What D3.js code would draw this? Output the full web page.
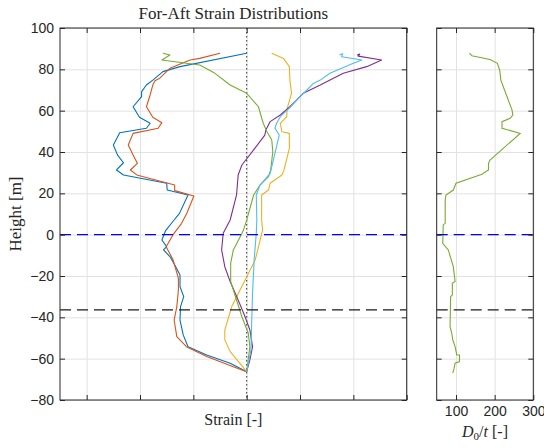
<!DOCTYPE html>
<html>
<head>
<meta charset="utf-8">
<script src="https://cdn.jsdelivr.net/npm/d3@7"></script>
<style>
  body { margin: 0; background: #fff; }
  .tick text { font-family: "Liberation Sans", Arial, sans-serif; font-size: 14px; fill: #262626; }
  .lbl { font-family: "Liberation Serif", "Times New Roman", serif; fill: #262626; }
</style>
</head>
<body>
<div id="chart"></div>
<script>
// tick values
const heightTicks = [-80, -60, -40, -20, 0, 20, 40, 60, 80, 100];
const strainTicks = [-3, -2, -1, 0, 1, 2, 3];
const slendTicks = [100, 200, 300];

// reference levels [m]
const waterLevel = 0;
const mudLevel = -36.4;

// strain profiles, [strain, height]
const blueSeries = [[0, 87.8], [-1.25, 81.3], [-1.57, 78.9], [-1.76, 74.8], [-1.88, 72.4], [-1.97, 69.2], [-1.97, 66.8],
  [-2.13, 61.9], [-2.01, 56.8], [-1.81, 53.9], [-1.88, 51.5], [-2.38, 49.3], [-2.5, 43.4], [-2.42, 38.5], [-2.31, 34.8],
  [-2.44, 31.3], [-2.31, 28.9], [-1.5, 24.9], [-1.49, 21.6], [-1.1, 19.2], [-1.26, 10.3], [-1.38, 6.5], [-1.52, 2],
  [-1.59, -2.6], [-1.5, -5.8], [-1.56, -7.4], [-1.44, -10.6], [-1.34, -15], [-1.25, -19.5], [-1.25, -25.2],
  [-1.18, -30], [-1.24, -34.8], [-1.25, -41.3], [-1.19, -48.5], [-1.1, -54.2], [-0.75, -58.2], [-0.31, -62.2], [0, -66.3]];
const orangeSeries = [[-0.5, 87.8], [-0.88, 85.3], [-1.06, 84.5], [-1.44, 80.5], [-1.63, 75.7], [-1.72, 74.5],
  [-1.76, 72.4], [-1.81, 67.6], [-1.88, 61.9], [-1.76, 56.8], [-1.59, 54.2], [-1.66, 51.5], [-2.13, 49], [-2.22, 43.4],
  [-2.13, 38.5], [-2.05, 34.5], [-2.18, 31.3], [-2.06, 28.9], [-1.35, 24], [-1.35, 21.3], [-0.99, 18.7], [-1.12, 10.5],
  [-1.22, 5.5], [-1.38, 0], [-1.51, -5.8], [-1.38, -12.2], [-1.28, -21.1], [-1.28, -26.8], [-1.31, -34.8],
  [-1.36, -41.3], [-1.31, -49.3], [-1.13, -54.2], [-0.75, -59], [-0.25, -63.9], [0, -66.3]];
const yellowSeries = [[0.47, 87.8], [0.69, 85.3], [0.8, 81.3], [0.81, 74.8], [0.84, 68.4], [0.76, 61.1], [0.75, 57.1],
  [0.63, 53.9], [0.66, 49.8], [0.8, 49], [0.8, 41.8], [0.7, 31.3], [0.66, 28.9], [0.44, 24.9], [0.41, 21.6],
  [0.28, 19.2], [0.28, 7], [0.3, 2.3], [0.16, -12.2], [-0.06, -23.5], [-0.28, -34.8], [-0.41, -46.1], [-0.41, -50.9],
  [-0.31, -56.6], [-0.13, -62.2], [0, -66.3]];
const purpleSeries = [[2.07, 86.9], [2.12, 87.4], [2.09, 86.4], [2.53, 84.5], [2.25, 81.3], [1.81, 78.1], [1.38, 72.4],
  [1.06, 68.4], [0.94, 65.2], [0.81, 61.9], [0.63, 57.9], [0.44, 54.7], [0.36, 50.6], [0.34, 48.2], [0.13, 41],
  [-0.09, 33.7], [-0.16, 28.9], [-0.19, 19.2], [-0.31, 7.1], [-0.44, 0.7], [-0.47, -7.4], [-0.41, -15.5],
  [-0.31, -22.7], [-0.16, -31.6], [-0.03, -39.7], [0.06, -46.1], [0.11, -54.2], [0.06, -60.6], [0, -66.3]];
const greenSeries = [[-1.57, 87.8], [-1.44, 86.9], [-1.59, 84.5], [-0.88, 82.1], [-0.62, 78.5], [-0.31, 72.4],
  [0, 68.4], [0.22, 61.9], [0.31, 53.9], [0.38, 49.8], [0.47, 45.8], [0.49, 40.2], [0.45, 31.3], [0.41, 28.1],
  [0.25, 24], [0.13, 19.2], [0, 7], [-0.06, 2.3], [-0.09, 0.6], [-0.25, -7.4], [-0.3, -13.8], [-0.3, -22.7],
  [-0.19, -31.6], [-0.09, -39.7], [0.03, -47.7], [0.06, -54.2], [0, -66.3]];
const cyanSeries = [[1.74, 86.9], [1.8, 87.6], [1.78, 86.1], [2.16, 84.5], [2.0, 82.9], [1.56, 78.1], [1.38, 74.8],
  [1.25, 73.2], [1.13, 70], [1.0, 66.8], [0.81, 61.5], [0.63, 57.1], [0.56, 53.9], [0.53, 51.5], [0.61, 48.2],
  [0.5, 36.1], [0.44, 29.7], [0.25, 24], [0.18, 19.2], [0.19, 7.1], [0.18, 0.7], [0.14, -12.2], [0.11, -28.4],
  [0.09, -46.1], [0.08, -55.8], [0, -66.3]];

// diameter to thickness ratio, [D0/t, height]
const slendSeries = [[134.7, 87.8], [141, 86.6], [188, 84.8], [207, 82.9], [213, 79.7], [216, 74.8], [245, 60.3],
  [247, 57.9], [240, 56.3], [219, 54.7], [219, 51.5], [266, 49], [188, 36.1], [184, 34.5], [184, 31.3], [167, 29.2],
  [100, 24.9], [93, 21.6], [74, 19.2], [72, 16.8], [72, 5.5], [67, 4.7], [65.6, -4.2], [80, -7.4], [93, -15.5],
  [97.6, -22.7], [90.5, -23.5], [90.5, -29.2], [86, -30], [84.6, -44.5], [89, -47.7], [91.6, -50.9], [97.6, -54.2],
  [102, -58.2], [109, -58.2], [109, -61.4], [97.6, -62.2], [95, -64.6], [91.6, -67]];

const strainLines = [
  { data: blueSeries, color: "#0072BD" },
  { data: orangeSeries, color: "#D95319" },
  { data: yellowSeries, color: "#EDB120" },
  { data: purpleSeries, color: "#7E2F8E" },
  { data: greenSeries, color: "#77AC30" },
  { data: cyanSeries, color: "#4DBEEE" }
];

const W = 544, H = 448;
const plotTop = 28, plotBottom = 400;
const mainL = 60, mainR = 406.7;
const sideL = 436.7, sideR = 533.3;

const svg = d3.select("#chart").append("svg")
  .attr("width", W)
  .attr("height", H);

const y = d3.scaleLinear().domain([-80, 100]).range([plotBottom, plotTop]);
const x = d3.scaleLinear().domain([-3.5, 3]).range([mainL, mainR]);
const xs = d3.scaleLinear().domain([50, 300]).range([sideL, sideR]);

const line = (sx) => d3.line().x(d => sx(d[0])).y(d => y(d[1]));

function grid(sx, xTicks, x0, x1) {
  const g = svg.append("g");
  g.append("g")
    .attr("transform", `translate(0,${plotBottom})`)
    .call(d3.axisBottom(sx).tickValues(xTicks).tickSize(-(plotBottom - plotTop)).tickFormat(""))
    .call(a => a.select(".domain").remove())
    .selectAll("line").attr("stroke", "#e2e2e2");
  g.append("g")
    .attr("transform", `translate(${x0},0)`)
    .call(d3.axisLeft(y).tickValues(heightTicks).tickSize(-(x1 - x0)).tickFormat(""))
    .call(a => a.select(".domain").remove())
    .selectAll("line").attr("stroke", "#e2e2e2");
}

function frame(sx, xTicks, x0, x1, showY, showX) {
  const g = svg.append("g");
  const ax = [
    [d3.axisBottom(sx).tickValues(xTicks), `translate(0,${plotBottom})`, showX],
    [d3.axisTop(sx).tickValues(xTicks), `translate(0,${plotTop})`, false],
    [d3.axisLeft(y).tickValues(heightTicks), `translate(${x0},0)`, showY],
    [d3.axisRight(y).tickValues(heightTicks), `translate(${x1},0)`, false]
  ];
  ax.forEach(([a, tr, lab]) => {
    const s = g.append("g").attr("transform", tr)
      .call(a.tickSize(-5).tickSizeOuter(0).tickPadding(lab ? 6 : 0).tickFormat(lab ? d3.format("") : ""));
    s.select(".domain").remove();
    s.selectAll("line").attr("stroke", "#262626");
  });
  g.append("rect")
    .attr("x", x0).attr("y", plotTop)
    .attr("width", x1 - x0).attr("height", plotBottom - plotTop)
    .attr("fill", "none").attr("stroke", "#262626").attr("stroke-width", 1);
}

function levels(x0, x1) {
  svg.append("line")
    .attr("x1", x0).attr("x2", x1)
    .attr("y1", y(waterLevel)).attr("y2", y(waterLevel))
    .attr("stroke", "#0000FF").attr("stroke-width", 1.2).attr("stroke-dasharray", "11,6");
  svg.append("line")
    .attr("x1", x0).attr("x2", x1)
    .attr("y1", y(mudLevel)).attr("y2", y(mudLevel))
    .attr("stroke", "#1a1a1a").attr("stroke-width", 1.2).attr("stroke-dasharray", "11,6");
}

// main panel
grid(x, strainTicks, mainL, mainR);
svg.append("line")
  .attr("x1", x(0)).attr("x2", x(0))
  .attr("y1", plotTop).attr("y2", plotBottom)
  .attr("stroke", "#333").attr("stroke-width", 1).attr("stroke-dasharray", "1.5,2.5");
strainLines.forEach(s => {
  svg.append("path")
    .datum(s.data)
    .attr("d", line(x))
    .attr("fill", "none")
    .attr("stroke", s.color)
    .attr("stroke-width", 1.1)
    .attr("stroke-linejoin", "round");
});
levels(mainL, mainR);
frame(x, strainTicks, mainL, mainR, true, false);

// side panel
grid(xs, slendTicks, sideL, sideR);
svg.append("path")
  .datum(slendSeries)
  .attr("d", line(xs))
  .attr("fill", "none")
  .attr("stroke", "#77AC30")
  .attr("stroke-width", 1.1);
levels(sideL, sideR);
frame(xs, slendTicks, sideL, sideR, false, true);

// titles and labels
svg.append("text").attr("class", "lbl")
  .attr("x", (mainL + mainR) / 2).attr("y", 19)
  .attr("text-anchor", "middle").style("font-size", "17px")
  .text("For-Aft Strain Distributions");

svg.append("text").attr("class", "lbl")
  .attr("transform", `translate(21,${(plotTop + plotBottom) / 2}) rotate(-90)`)
  .attr("text-anchor", "middle").style("font-size", "17px")
  .text("Height [m]");

svg.append("text").attr("class", "lbl")
  .attr("x", (mainL + mainR) / 2).attr("y", 425)
  .attr("text-anchor", "middle").style("font-size", "16px")
  .text("Strain [-]");

const d0 = svg.append("text").attr("class", "lbl")
  .attr("x", (sideL + sideR) / 2).attr("y", 437)
  .attr("text-anchor", "middle").style("font-size", "16px");
d0.append("tspan").style("font-style", "italic").text("D");
d0.append("tspan").attr("dy", 3).style("font-size", "11px").text("0");
d0.append("tspan").attr("dy", -3).text("/");
d0.append("tspan").style("font-style", "italic").text("t");
d0.append("tspan").text(" [-]");
</script>
</body>
</html>
